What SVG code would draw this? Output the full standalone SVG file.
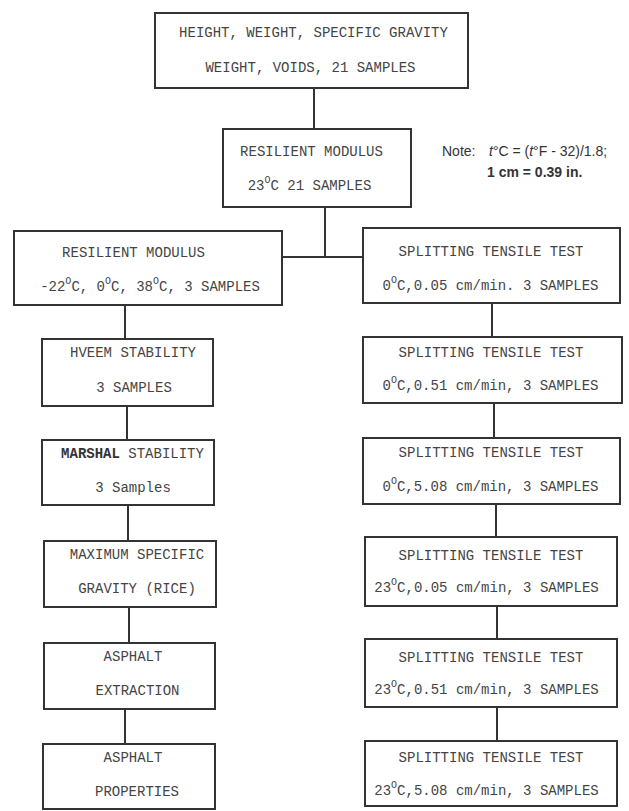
<svg xmlns="http://www.w3.org/2000/svg" width="629" height="811" viewBox="0 0 629 811">
<style>
.box{fill:#fff;stroke:#333;stroke-width:2}
.t{font-family:"Liberation Mono","DejaVu Sans Mono",monospace;font-size:14px;fill:#444;text-anchor:middle}
.sup{font-size:10px}
.note{font-family:"Liberation Sans",Arial,sans-serif;font-size:14px;fill:#333}
#connectors line{stroke:#333;stroke-width:2}
</style>
<rect width="629" height="811" fill="#fff"/>
<g id="connectors">
<line x1="314" y1="88" x2="314" y2="129"/>
<line x1="325" y1="207" x2="325" y2="257"/>
<line x1="282" y1="257" x2="363" y2="257"/>
<line x1="125" y1="305" x2="125" y2="339"/>
<line x1="127" y1="406" x2="127" y2="440"/>
<line x1="128" y1="505" x2="128" y2="541"/>
<line x1="129" y1="607" x2="129" y2="643"/>
<line x1="125" y1="709" x2="125" y2="744"/>
<line x1="492" y1="303" x2="492" y2="337"/>
<line x1="494" y1="403" x2="494" y2="438"/>
<line x1="496" y1="504" x2="496" y2="537"/>
<line x1="497" y1="606" x2="497" y2="639"/>
<line x1="497" y1="707" x2="497" y2="741"/>
</g>
<g id="n-top">
<rect class="box" x="155" y="13" width="313" height="75"/>
<text class="t" x="313.5" y="37">HEIGHT, WEIGHT, SPECIFIC GRAVITY</text>
<text class="t" x="310.5" y="72">WEIGHT, VOIDS, 21 SAMPLES</text>
</g>
<g id="n-resilient23">
<rect class="box" x="223" y="129" width="188" height="78"/>
<text class="t" x="311.5" y="156">RESILIENT MODULUS</text>
<text class="t" x="309.5" y="190">23<tspan class="sup" dy="-7">O</tspan><tspan dy="7">C 21 SAMPLES</tspan></text>
</g>
<g id="note">
<text class="note" x="442" y="156">Note:</text>
<text class="note" x="489" y="156"><tspan font-style="italic">t</tspan>°C = (<tspan font-style="italic">t</tspan>°F - 32)/1.8;</text>
<text class="note" x="487" y="177" font-size="13.5" font-weight="bold">1 cm = 0.39 in.</text>
</g>
<g id="n-resilient3">
<rect class="box" x="14" y="231" width="268" height="74"/>
<text class="t" x="133.5" y="257">RESILIENT MODULUS</text>
<text class="t" x="150" y="291">-22<tspan class="sup" dy="-7">O</tspan><tspan dy="7">C, 0</tspan><tspan class="sup" dy="-7">O</tspan><tspan dy="7">C, 38</tspan><tspan class="sup" dy="-7">O</tspan><tspan dy="7">C, 3 SAMPLES</tspan></text>
</g>
<g id="n-hveem">
<rect class="box" x="42" y="339" width="171" height="67"/>
<text class="t" x="133" y="357">HVEEM STABILITY</text>
<text class="t" x="134" y="392">3 SAMPLES</text>
</g>
<g id="n-marshal">
<rect class="box" x="42" y="440" width="172" height="65"/>
<text class="t" x="132.5" y="458"><tspan font-weight="bold" fill="#333">MARSHAL</tspan> STABILITY</text>
<text class="t" x="133" y="492">3 Samples</text>
</g>
<g id="n-maxsg">
<rect class="box" x="44" y="541" width="172" height="66"/>
<text class="t" x="137" y="559">MAXIMUM SPECIFIC</text>
<text class="t" x="137" y="593">GRAVITY (RICE)</text>
</g>
<g id="n-extraction">
<rect class="box" x="44" y="643" width="171" height="66"/>
<text class="t" x="133" y="661">ASPHALT</text>
<text class="t" x="137.5" y="695">EXTRACTION</text>
</g>
<g id="n-properties">
<rect class="box" x="43" y="744" width="172" height="65"/>
<text class="t" x="133" y="762">ASPHALT</text>
<text class="t" x="137" y="796">PROPERTIES</text>
</g>
<g id="n-split1">
<rect class="box" x="363" y="228" width="257" height="75"/>
<text class="t" x="491" y="256">SPLITTING TENSILE TEST</text>
<text class="t" x="490.5" y="290">0<tspan class="sup" dy="-7">O</tspan><tspan dy="7">C,0.05 cm/min. 3 SAMPLES</tspan></text>
</g>
<g id="n-split2">
<rect class="box" x="363" y="337" width="259" height="66"/>
<text class="t" x="491" y="357">SPLITTING TENSILE TEST</text>
<text class="t" x="490.5" y="390">0<tspan class="sup" dy="-7">O</tspan><tspan dy="7">C,0.51 cm/min, 3 SAMPLES</tspan></text>
</g>
<g id="n-split3">
<rect class="box" x="363" y="438" width="257" height="66"/>
<text class="t" x="491" y="457">SPLITTING TENSILE TEST</text>
<text class="t" x="490.5" y="491">0<tspan class="sup" dy="-7">O</tspan><tspan dy="7">C,5.08 cm/min, 3 SAMPLES</tspan></text>
</g>
<g id="n-split4">
<rect class="box" x="365" y="537" width="252" height="69"/>
<text class="t" x="491" y="560">SPLITTING TENSILE TEST</text>
<text class="t" x="486.5" y="592">23<tspan class="sup" dy="-7">O</tspan><tspan dy="7">C,0.05 cm/min, 3 SAMPLES</tspan></text>
</g>
<g id="n-split5">
<rect class="box" x="365" y="639" width="252" height="68"/>
<text class="t" x="491" y="662">SPLITTING TENSILE TEST</text>
<text class="t" x="486.5" y="694">23<tspan class="sup" dy="-7">O</tspan><tspan dy="7">C,0.51 cm/min, 3 SAMPLES</tspan></text>
</g>
<g id="n-split6">
<rect class="box" x="365" y="741" width="252" height="65"/>
<text class="t" x="491" y="762">SPLITTING TENSILE TEST</text>
<text class="t" x="486.5" y="795">23<tspan class="sup" dy="-7">O</tspan><tspan dy="7">C,5.08 cm/min, 3 SAMPLES</tspan></text>
</g>
</svg>
